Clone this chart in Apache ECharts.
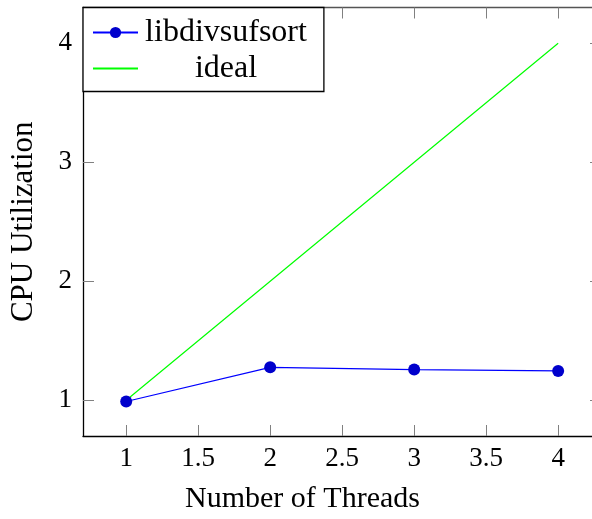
<!DOCTYPE html>
<html><head><meta charset="utf-8">
<script src="https://cdn.jsdelivr.net/npm/echarts@6/dist/echarts.min.js"></script>
<style>html,body{margin:0;padding:0;background:#fff}#c{width:592px;height:519px}</style>
</head><body><div id="c"></div>
<script>
const threads = [1, 2, 3, 4];
const libdivsufsort = [0.99, 1.277, 1.258, 1.247];
const ideal = [1, 2, 3, 4];
const xTicks = [1, 1.5, 2, 2.5, 3, 3.5, 4];
const yTicks = [1, 2, 3, 4];
const FONT = 'Liberation Serif';
const chart = echarts.init(document.getElementById('c'), null, {renderer: 'canvas'});
const tick = (vals, len) => ({show: true, inside: true, length: len, customValues: vals, lineStyle: {color: '#808080', width: 1}});
const XMIN = 0.7, XMAX = 4.235, YMIN = 0.7, YMAX = 4.3;
chart.setOption({
  animation: false,
  grid: {left: 83, top: 7.5, right: 0, bottom: 81, containLabel: false},
  xAxis: [{
    type: 'value', min: XMIN, max: XMAX,
    name: 'Number of Threads', nameLocation: 'middle', nameGap: 48,
    nameTextStyle: {fontFamily: FONT, fontSize: 30, color: '#000', padding: [0, 70, 0, 0]},
    axisLine: {show: true, onZero: false, lineStyle: {color: '#000', width: 1.3}},
    axisTick: tick(xTicks, 11),
    axisLabel: {fontFamily: FONT, fontSize: 27, color: '#000', margin: 9,
      customValues: xTicks, formatter: v => String(v)},
    splitLine: {show: false}
  }, {
    type: 'value', position: 'top', min: XMIN, max: XMAX,
    axisLine: {show: true, onZero: false, lineStyle: {color: '#555', width: 1.3}},
    axisTick: tick(xTicks, 11), axisLabel: {show: false}, splitLine: {show: false}
  }],
  yAxis: [{
    type: 'value', min: YMIN, max: YMAX,
    name: 'CPU Utilization', nameLocation: 'middle', nameGap: 44,
    nameTextStyle: {fontFamily: FONT, fontSize: 31, color: '#000'},
    axisLine: {show: true, onZero: false, lineStyle: {color: '#000', width: 1.3}},
    axisTick: tick(yTicks, 11),
    axisLabel: {fontFamily: FONT, fontSize: 27, color: '#000', margin: 11, customValues: yTicks},
    splitLine: {show: false}
  }, {
    type: 'value', position: 'right', min: YMIN, max: YMAX,
    axisLine: {show: false},
    axisTick: tick(yTicks, 2), axisLabel: {show: false}, splitLine: {show: false}
  }],
  legend: {
    left: 83, top: 7.5, orient: 'vertical', itemGap: 4,
    itemWidth: 45, itemHeight: 14,
    padding: [9, 17, 7, 9],
    borderColor: '#000', borderWidth: 1.3, backgroundColor: '#fff',
    textStyle: {fontFamily: FONT, fontSize: 32, color: '#000',
      rich: {c: {fontFamily: FONT, fontSize: 32, color: '#000', width: 166, align: 'center'}}},
    formatter: n => '{c|' + n + '}',
    data: [{name: 'libdivsufsort'}, {name: 'ideal', itemStyle: {opacity: 0}}]
  },
  series: [{
    name: 'libdivsufsort', type: 'line', xAxisIndex: 0, yAxisIndex: 0,
    data: threads.map((t, i) => [t, libdivsufsort[i]]),
    symbol: 'circle', symbolSize: 12, showSymbol: true,
    lineStyle: {color: '#0000ff', width: 1.2}, itemStyle: {color: '#0000cc'}, z: 3
  }, {
    name: 'ideal', type: 'line', xAxisIndex: 0, yAxisIndex: 0,
    data: threads.map((t, i) => [t, ideal[i]]),
    symbol: 'none', lineStyle: {color: '#00ff00', width: 1.2}, itemStyle: {color: '#00ff00'}, z: 2
  }]
});
</script></body></html>
